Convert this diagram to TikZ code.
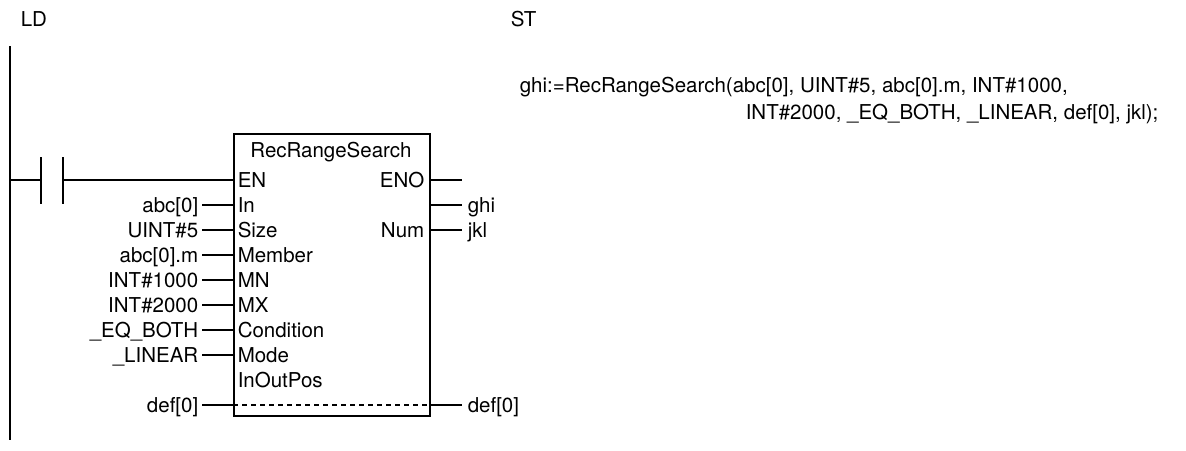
\documentclass[tikz,border=0pt]{standalone}
\usepackage{fontspec}
\setmainfont{TeX Gyre Heros}
\begin{document}
\begin{tikzpicture}[x=1pt,y=-1pt,line width=1.5pt,
  every node/.style={inner sep=0pt,font=\fontsize{20.5}{24}\selectfont},
  lab/.style={anchor=base west},
  rlab/.style={anchor=base east},
  wire/.style={line width=1.5pt},
  railstyle/.style={line width=1.8pt},
  fbox/.style={draw,line width=1.6pt,minimum width=196pt,minimum height=282pt,anchor=north west},
  inout/.style={dashed,dash pattern=on 5pt off 4pt,line width=1.3pt}]
\useasboundingbox (0,0) rectangle (1186,450);
% titles
\node[lab] (ld) at (20,26) {LD};
\node[lab] (st) at (510,26) {ST};
% ST code
\node[lab] (st1) at (519,92) {ghi:=RecRangeSearch(abc[0], UINT\#5, abc[0].m, INT\#1000,};
\node[lab] (st2) at (745,119) {INT\#2000, \_EQ\_BOTH, \_LINEAR, def[0], jkl);};
% rail
\coordinate (railtop) at (10,46);
\coordinate (railbot) at (10,440);
\draw[railstyle] (railtop) -- (railbot);
% contact
\coordinate (r1) at (10,180);
\coordinate (c1) at (41,180);
\coordinate (c2) at (63,180);
\coordinate (c1t) at (41,157);
\coordinate (c1b) at (41,204);
\coordinate (c2t) at (63,157);
\coordinate (c2b) at (63,204);
\draw[wire] (r1) -- (c1);
\draw[wire] (c1t) -- (c1b);
\draw[wire] (c2t) -- (c2b);
% function block
\node[fbox] (fb) at (233,133) {};
\node[anchor=base] (title) at (331,157) {RecRangeSearch};
\draw[wire] (c2) -- (fb.west |- c2);
\node[lab] (pEN) at (237,187) {EN};
% inputs
\foreach \i/\pin/\val/\y in {1/In/abc[0]/205, 2/Size/UINT\#5/230, 3/Member/abc[0].m/255,
    4/MN/INT\#1000/280, 5/MX/INT\#2000/305, 6/Condition/{\_EQ\_BOTH}/330, 7/Mode/{\_LINEAR}/355}{
  \node[lab] (p\i) at (237,\y+7) {\pin};
  \node[rlab] (v\i) at (199,\y+7) {\val};
  \coordinate (s\i) at (202,\y);
  \draw[wire] (s\i) -- (fb.west |- s\i);
}
\node[lab] (pIO) at (237,387) {InOutPos};
\node[rlab] (vIO) at (199,412) {def[0]};
\coordinate (sIO) at (202,405);
\coordinate (eIO) at (462,405);
\draw[wire] (sIO) -- (fb.west |- sIO);
\draw[inout] (fb.west |- sIO) -- (fb.east |- sIO);
\draw[wire] (fb.east |- eIO) -- (eIO);
\node[lab] (oIO) at (467,412) {def[0]};
% outputs
\node[rlab] (pENO) at (425,187) {ENO};
\node[rlab] (pNum) at (425,237) {Num};
\coordinate (eENO) at (462,180);
\coordinate (eghi) at (462,205);
\coordinate (ejkl) at (462,230);
\draw[wire] (fb.east |- eENO) -- (eENO);
\draw[wire] (fb.east |- eghi) -- (eghi);
\draw[wire] (fb.east |- ejkl) -- (ejkl);
\node[lab] (oghi) at (467,212) {ghi};
\node[lab] (ojkl) at (467,237) {jkl};
\end{tikzpicture}
\end{document}
